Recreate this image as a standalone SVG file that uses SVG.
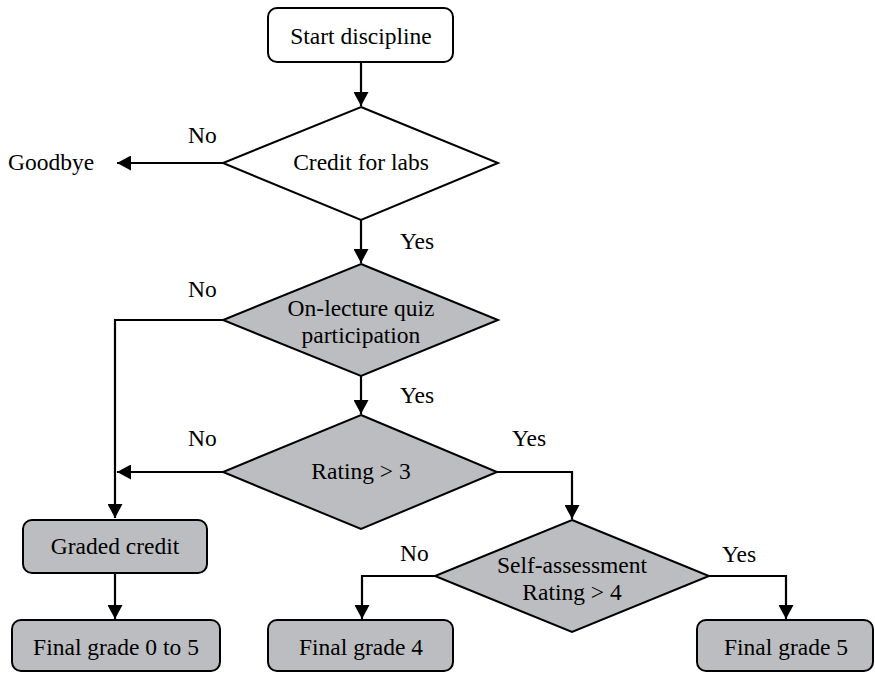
<svg xmlns="http://www.w3.org/2000/svg" width="875" height="673" viewBox="0 0 875 673">
  <defs>
    <marker id="arrow" markerUnits="userSpaceOnUse" markerWidth="15" markerHeight="15" refX="14" refY="7.5" orient="auto">
      <path d="M0,0 L14,7.5 L0,15 z" fill="#000"/>
    </marker>
    <style>
      .box { stroke: #000; stroke-width: 2; }
      .white { fill: #fff; }
      .grey { fill: #bcbdc0; }
      .conn { fill: none; stroke: #000; stroke-width: 2.2; }
      .c { text-anchor: middle; }
    </style>
  </defs>
  <rect width="875" height="673" fill="#fff"/>

  <!-- connectors -->
  <g id="connectors">
    <path class="conn" d="M361,62 V106" marker-end="url(#arrow)"/>
    <path class="conn" d="M223,163 H117" marker-end="url(#arrow)"/>
    <path class="conn" d="M361,220 V263" marker-end="url(#arrow)"/>
    <path class="conn" d="M223,320 H115 V518" marker-end="url(#arrow)"/>
    <path class="conn" d="M361,376 V414" marker-end="url(#arrow)"/>
    <path class="conn" d="M223,472 H117" marker-end="url(#arrow)"/>
    <path class="conn" d="M115,573 V619" marker-end="url(#arrow)"/>
    <path class="conn" d="M497,472 H572 V519" marker-end="url(#arrow)"/>
    <path class="conn" d="M435,576 H362 V619" marker-end="url(#arrow)"/>
    <path class="conn" d="M709,576 H786 V619" marker-end="url(#arrow)"/>
  </g>

  <g font-family="'Liberation Serif', Tinos, 'Times New Roman', 'DejaVu Serif', serif" font-size="23.5" fill="#000">
    <!-- edge labels -->
    <g id="labels">
      <text x="188" y="143">No</text>
      <text x="400" y="249">Yes</text>
      <text x="188" y="297">No</text>
      <text x="400" y="403">Yes</text>
      <text x="188" y="446">No</text>
      <text x="512" y="446">Yes</text>
      <text x="400" y="561">No</text>
      <text x="722" y="562">Yes</text>
    </g>

    <g id="start">
      <rect class="box white" x="268" y="8" width="185" height="54" rx="9"/>
      <text class="c" x="361" y="44">Start discipline</text>
    </g>

    <g id="goodbye">
      <text x="8" y="170">Goodbye</text>
    </g>

    <g id="credit-labs">
      <polygon class="box white" points="361,107 498,163 361,220 223,163"/>
      <text class="c" x="361" y="170">Credit for labs</text>
    </g>

    <g id="quiz">
      <polygon class="box grey" points="361,264 498,320 361,376 223,320"/>
      <text class="c" x="361" y="316">On-lecture quiz</text>
      <text class="c" x="361" y="343">participation</text>
    </g>

    <g id="rating3">
      <polygon class="box grey" points="361,415 497,472 361,529 223,472"/>
      <text class="c" x="361" y="479">Rating &gt; 3</text>
    </g>

    <g id="graded-credit">
      <rect class="box grey" x="23" y="520" width="184" height="53" rx="9"/>
      <text class="c" x="115" y="554">Graded credit</text>
    </g>

    <g id="self-assessment">
      <polygon class="box grey" points="572,520 709,576 572,632 435,576"/>
      <text class="c" x="572" y="573">Self-assessment</text>
      <text class="c" x="572" y="600">Rating &gt; 4</text>
    </g>

    <g id="final-0-5">
      <rect class="box grey" x="12" y="620" width="208" height="51" rx="9"/>
      <text class="c" x="116" y="655">Final grade 0 to 5</text>
    </g>

    <g id="final-4">
      <rect class="box grey" x="268" y="620" width="185" height="51" rx="9"/>
      <text class="c" x="361" y="655">Final grade 4</text>
    </g>

    <g id="final-5">
      <rect class="box grey" x="697" y="620" width="176" height="51" rx="9"/>
      <text class="c" x="786" y="655">Final grade 5</text>
    </g>
  </g>
</svg>
